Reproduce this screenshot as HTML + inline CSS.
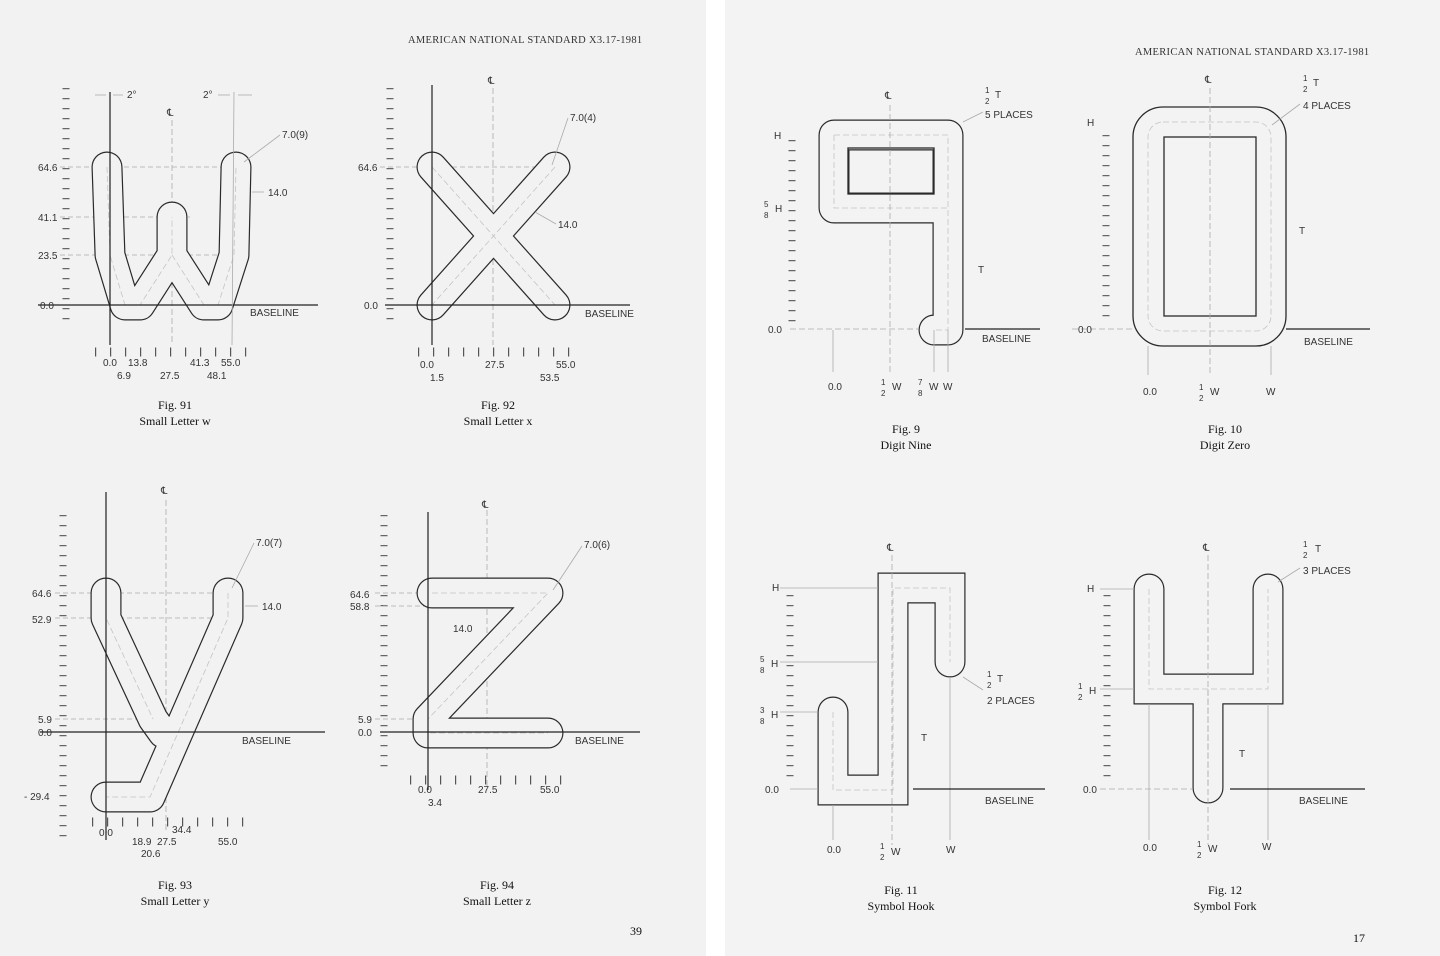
<!DOCTYPE html>
<html><head><meta charset="utf-8"><style>
html,body{margin:0;padding:0;background:#fff}
svg{display:block}
text{font-family:"Liberation Sans",sans-serif;font-size:10px;fill:#333}
.s{font-family:"Liberation Serif",serif;font-size:12px;fill:#111}
.h{font-family:"Liberation Serif",serif;font-size:10.5px;fill:#333;letter-spacing:.3px}
.o{fill:none;stroke:#2a2a2a;stroke-width:31;stroke-linecap:round}
.i{fill:none;stroke:#f2f2f2;stroke-width:28.6;stroke-linecap:round}
.ri{fill:none;stroke:#f3f3f3;stroke-width:28.6;stroke-linecap:round}
.c{fill:none;stroke:#c4c4c4;stroke-width:.8;stroke-dasharray:6 3}
.ax{stroke:#222;stroke-width:1.2}
.th{stroke:#aaa;stroke-width:.8}
.rl{stroke:#666;stroke-width:7;stroke-dasharray:1.2 8.8}
.tk{stroke:#555;stroke-width:9;stroke-dasharray:1.2 13.8}
.f{font-size:8px}
</style></head><body>
<svg width="1440" height="956" viewBox="0 0 1440 956" xmlns="http://www.w3.org/2000/svg">
<rect x="0" y="0" width="706" height="956" fill="#f2f2f2"/>
<rect x="725" y="0" width="715" height="956" fill="#f3f3f3"/>
<text class="h" x="408" y="43">AMERICAN NATIONAL STANDARD X3.17-1981</text>
<text class="h" x="1135" y="55">AMERICAN NATIONAL STANDARD X3.17-1981</text>
<text class="s" x="630" y="935">39</text>
<text class="s" x="1353" y="942">17</text>

<!-- Fig 91 w -->
<line class="rl" x1="66" y1="88" x2="66" y2="322"/>
<g class="th"><line x1="60" y1="167" x2="236" y2="167" stroke-dasharray="5 3"/><line x1="60" y1="217" x2="190" y2="217" stroke-dasharray="5 3"/><line x1="60" y1="255" x2="240" y2="255" stroke-dasharray="5 3"/><line x1="172" y1="120" x2="172" y2="345" stroke-dasharray="6 3"/></g>
<path class="o" d="M107,167 L110,255 L125,305 L140,305 L172,255 L172,217 M172,255 L204,305 L218,305 L234,255 L236,167" stroke-linejoin="round"/>
<path class="i" d="M107,167 L110,255 L125,305 L140,305 L172,255 L172,217 M172,255 L204,305 L218,305 L234,255 L236,167" stroke-linejoin="round"/>
<path class="c" d="M107,167 L110,255 L125,305 L140,305 L172,255 L172,217 M172,255 L204,305 L218,305 L234,255 L236,167"/>
<line class="ax" x1="110" y1="92" x2="110" y2="345"/>
<line class="ax" x1="38" y1="305" x2="318" y2="305"/>
<line class="th" x1="234" y1="92" x2="232" y2="345"/>
<text x="38" y="171">64.6</text><text x="38" y="221">41.1</text><text x="38" y="259">23.5</text><text x="40" y="309">0.0</text>
<text x="250" y="316">BASELINE</text>
<text x="167" y="116">℄</text>
<text x="127" y="98">2°</text><text x="203" y="98">2°</text>
<line class="th" x1="95" y1="95" x2="106" y2="95"/><line class="th" x1="113" y1="95" x2="123" y2="95"/><line class="th" x1="218" y1="95" x2="230" y2="95"/><line class="th" x1="238" y1="95" x2="252" y2="95"/>
<text x="282" y="138">7.0(9)</text><line class="th" x1="280" y1="135" x2="244" y2="162"/>
<text x="268" y="196">14.0</text><line class="th" x1="252" y1="192" x2="264" y2="192"/>
<line class="tk" x1="95" y1="352" x2="250" y2="352"/>
<text x="103" y="366">0.0</text><text x="128" y="366">13.8</text><text x="190" y="366">41.3</text><text x="221" y="366">55.0</text>
<text x="117" y="379">6.9</text><text x="160" y="379">27.5</text><text x="207" y="379">48.1</text>
<text class="s" x="175" y="409" text-anchor="middle">Fig. 91</text><text class="s" x="175" y="425" text-anchor="middle">Small Letter w</text>

<!-- Fig 92 x -->
<line class="rl" x1="390" y1="88" x2="390" y2="322"/>
<line class="th" x1="380" y1="167" x2="560" y2="167" stroke-dasharray="5 3"/>
<line class="th" x1="493" y1="88" x2="493" y2="345" stroke-dasharray="6 3"/>
<path class="o" d="M432,167 L555,305 M555,167 L432,305"/>
<path class="i" d="M432,167 L555,305 M555,167 L432,305"/>
<path class="c" d="M432,167 L555,305 M555,167 L432,305"/>
<line class="ax" x1="432" y1="85" x2="432" y2="345"/>
<line class="ax" x1="385" y1="305" x2="630" y2="305"/>
<text x="358" y="171">64.6</text><text x="364" y="309">0.0</text>
<text x="585" y="317">BASELINE</text><text x="488" y="84">℄</text>
<text x="570" y="121">7.0(4)</text><line class="th" x1="568" y1="118" x2="552" y2="165"/>
<text x="558" y="228">14.0</text><line class="th" x1="556" y1="224" x2="535" y2="212"/>
<line class="tk" x1="418" y1="352" x2="570" y2="352"/>
<text x="420" y="368">0.0</text><text x="485" y="368">27.5</text><text x="556" y="368">55.0</text>
<text x="430" y="381">1.5</text><text x="540" y="381">53.5</text>
<text class="s" x="498" y="409" text-anchor="middle">Fig. 92</text><text class="s" x="498" y="425" text-anchor="middle">Small Letter x</text>

<!-- Fig 93 y -->
<line class="rl" x1="63" y1="515" x2="63" y2="840"/>
<g class="th" stroke-dasharray="5 3"><line x1="55" y1="593" x2="230" y2="593"/><line x1="55" y1="618" x2="230" y2="618"/><line x1="55" y1="719" x2="190" y2="719"/><line x1="166" y1="500" x2="166" y2="830" stroke-dasharray="6 3"/></g>
<path class="o" d="M106,593 L106,618 L153,719 L163,733 M228,593 L228,618 L150,797 L106,797" stroke-linejoin="round"/>
<path class="i" d="M106,593 L106,618 L153,719 L163,733 M228,593 L228,618 L150,797 L106,797" stroke-linejoin="round"/>
<path class="c" d="M106,593 L106,618 L153,719 M228,593 L228,618 L150,797 L106,797"/>
<line class="ax" x1="106" y1="492" x2="106" y2="840"/>
<line class="ax" x1="40" y1="732" x2="325" y2="732"/>
<text x="32" y="597">64.6</text><text x="32" y="623">52.9</text><text x="38" y="723">5.9</text><text x="38" y="736">0.0</text><text x="24" y="800">- 29.4</text>
<text x="242" y="744">BASELINE</text><text x="161" y="494">℄</text>
<text x="256" y="546">7.0(7)</text><line class="th" x1="254" y1="543" x2="232" y2="588"/>
<text x="262" y="610">14.0</text><line class="th" x1="245" y1="606" x2="258" y2="606"/>
<line class="tk" x1="92" y1="822" x2="245" y2="822"/>
<text x="99" y="836">0.0</text><text x="172" y="833">34.4</text><text x="132" y="845">18.9</text><text x="157" y="845">27.5</text><text x="218" y="845">55.0</text><text x="141" y="857">20.6</text>
<text class="s" x="175" y="889" text-anchor="middle">Fig. 93</text><text class="s" x="175" y="905" text-anchor="middle">Small Letter y</text>

<!-- Fig 94 z -->
<line class="rl" x1="384" y1="515" x2="384" y2="770"/>
<g class="th" stroke-dasharray="5 3"><line x1="375" y1="593" x2="555" y2="593"/><line x1="375" y1="606" x2="470" y2="606"/><line x1="375" y1="719" x2="430" y2="719"/><line x1="487" y1="510" x2="487" y2="790" stroke-dasharray="6 3"/></g>
<path class="o" d="M432,593 L548,593 L428,719 L428,733 L548,733" stroke-linejoin="round"/>
<path class="i" d="M432,593 L548,593 L428,719 L428,733 L548,733" stroke-linejoin="round"/>
<path class="c" d="M432,593 L548,593 L428,719 L428,733 L548,733"/>
<line class="ax" x1="428" y1="512" x2="428" y2="790"/>
<line class="ax" x1="380" y1="732" x2="640" y2="732"/>
<text x="350" y="598">64.6</text><text x="350" y="610">58.8</text><text x="358" y="723">5.9</text><text x="358" y="736">0.0</text>
<text x="575" y="744">BASELINE</text><text x="482" y="508">℄</text>
<text x="584" y="548">7.0(6)</text><line class="th" x1="582" y1="546" x2="553" y2="590"/>
<text x="453" y="632">14.0</text>
<line class="tk" x1="410" y1="780" x2="568" y2="780"/>
<text x="418" y="793">0.0</text><text x="428" y="806">3.4</text><text x="478" y="793">27.5</text><text x="540" y="793">55.0</text>
<text class="s" x="497" y="889" text-anchor="middle">Fig. 94</text><text class="s" x="497" y="905" text-anchor="middle">Small Letter z</text>

<!-- Fig 9 -->
<line class="rl" x1="792" y1="140" x2="792" y2="322"/>
<path class="o" d="M834,135 L948,135 L948,208 L834,208 Z M948,135 L948,330 L934,330" stroke-linejoin="round"/>
<path class="ri" d="M834,135 L948,135 L948,208 L834,208 Z M948,135 L948,330 L934,330" stroke-linejoin="round"/>
<rect x="848" y="148" width="86" height="46" fill="none" stroke="#2a2a2a" stroke-width="1.3"/>
<path class="c" d="M834,135 L948,135 L948,330 L934,330 M834,135 L834,208 L948,208"/>
<line class="th" x1="790" y1="329" x2="918" y2="329" stroke-dasharray="6 3"/><line class="ax" x1="965" y1="329" x2="1040" y2="329"/>
<line class="th" x1="833" y1="330" x2="833" y2="372"/><line class="th" x1="890" y1="105" x2="890" y2="372" stroke-dasharray="6 3"/><line class="th" x1="934" y1="330" x2="934" y2="372"/><line class="th" x1="948" y1="330" x2="948" y2="372"/>
<text x="774" y="139">H</text><text class="f" x="764" y="207">5</text><text class="f" x="764" y="218">8</text><text x="775" y="212">H</text><text x="768" y="333">0.0</text>
<text x="982" y="342">BASELINE</text><text x="885" y="99">℄</text>
<text class="f" x="985" y="93">1</text><text class="f" x="985" y="104">2</text><text x="995" y="98">T</text><text x="985" y="118">5 PLACES</text>
<line class="th" x1="983" y1="112" x2="963" y2="122"/>
<text x="978" y="273">T</text>
<text x="828" y="390">0.0</text><text class="f" x="881" y="385">1</text><text class="f" x="881" y="396">2</text><text x="892" y="390">W</text>
<text class="f" x="918" y="385">7</text><text class="f" x="918" y="396">8</text><text x="929" y="390">W</text><text x="943" y="390">W</text>
<text class="s" x="906" y="433" text-anchor="middle">Fig. 9</text><text class="s" x="906" y="449" text-anchor="middle">Digit Nine</text>

<!-- Fig 10 -->
<line class="rl" x1="1106" y1="135" x2="1106" y2="318"/>
<rect x="1133" y="107" width="153" height="239" rx="30" fill="none" stroke="#2a2a2a" stroke-width="1.3"/>
<rect x="1164" y="137" width="92" height="179" fill="none" stroke="#2a2a2a" stroke-width="1.3"/>
<rect x="1148" y="122" width="123" height="209" rx="15" class="c"/>
<line class="th" x1="1072" y1="329" x2="1133" y2="329" stroke-dasharray="6 3"/><line class="ax" x1="1286" y1="329" x2="1370" y2="329"/>
<line class="th" x1="1210" y1="88" x2="1210" y2="375" stroke-dasharray="6 3"/><line class="th" x1="1148" y1="346" x2="1148" y2="375"/><line class="th" x1="1271" y1="346" x2="1271" y2="375"/>
<text x="1087" y="126">H</text><text x="1078" y="333">0.0</text><text x="1304" y="345">BASELINE</text><text x="1205" y="83">℄</text>
<text class="f" x="1303" y="81">1</text><text class="f" x="1303" y="92">2</text><text x="1313" y="86">T</text><text x="1303" y="109">4 PLACES</text>
<line class="th" x1="1300" y1="104" x2="1272" y2="125"/>
<text x="1299" y="234">T</text>
<text x="1143" y="395">0.0</text><text class="f" x="1199" y="390">1</text><text class="f" x="1199" y="401">2</text><text x="1210" y="395">W</text><text x="1266" y="395">W</text>
<text class="s" x="1225" y="433" text-anchor="middle">Fig. 10</text><text class="s" x="1225" y="449" text-anchor="middle">Digit Zero</text>

<!-- Fig 11 -->
<line class="rl" x1="790" y1="595" x2="790" y2="782"/>
<path class="o" d="M833,712 L833,790 L893,790 L893,588 L950,588 L950,662" stroke-linejoin="miter" stroke-linecap="round"/>
<path class="ri" d="M833,712 L833,790 L893,790 L893,588 L950,588 L950,662" stroke-linejoin="miter"/>
<path class="c" d="M833,712 L833,790 L893,790 L893,588 L950,588 L950,662"/>
<g class="th"><line x1="780" y1="588" x2="878" y2="588"/><line x1="780" y1="662" x2="878" y2="662"/><line x1="780" y1="712" x2="818" y2="712"/><line x1="790" y1="789" x2="818" y2="789"/><line x1="892" y1="555" x2="892" y2="845" stroke-dasharray="6 3"/><line x1="833" y1="805" x2="833" y2="840"/><line x1="950" y1="677" x2="950" y2="840"/></g>
<line class="ax" x1="913" y1="789" x2="1045" y2="789"/>
<text x="772" y="591">H</text><text class="f" x="760" y="662">5</text><text class="f" x="760" y="673">8</text><text x="771" y="667">H</text>
<text class="f" x="760" y="713">3</text><text class="f" x="760" y="724">8</text><text x="771" y="718">H</text><text x="765" y="793">0.0</text>
<text x="985" y="804">BASELINE</text><text x="887" y="551">℄</text>
<text class="f" x="987" y="677">1</text><text class="f" x="987" y="688">2</text><text x="997" y="682">T</text><text x="987" y="704">2 PLACES</text>
<line class="th" x1="983" y1="690" x2="963" y2="677"/>
<text x="921" y="741">T</text>
<text x="827" y="853">0.0</text><text class="f" x="880" y="849">1</text><text class="f" x="880" y="860">2</text><text x="891" y="855">W</text><text x="946" y="853">W</text>
<text class="s" x="901" y="894" text-anchor="middle">Fig. 11</text><text class="s" x="901" y="910" text-anchor="middle">Symbol Hook</text>

<!-- Fig 12 -->
<line class="rl" x1="1107" y1="595" x2="1107" y2="785"/>
<path class="o" d="M1149,589 L1149,689 L1268,689 L1268,589 M1208,689 L1208,788" stroke-linejoin="miter"/>
<path class="ri" d="M1149,589 L1149,689 L1268,689 L1268,589 M1208,689 L1208,788" stroke-linejoin="miter"/>
<path class="c" d="M1149,589 L1149,689 L1268,689 L1268,589 M1208,689 L1208,788"/>
<g class="th"><line x1="1100" y1="589" x2="1134" y2="589"/><line x1="1100" y1="689" x2="1134" y2="689"/><line x1="1100" y1="789" x2="1193" y2="789" stroke-dasharray="6 3"/><line x1="1208" y1="555" x2="1208" y2="845" stroke-dasharray="6 3"/><line x1="1149" y1="704" x2="1149" y2="840"/><line x1="1268" y1="704" x2="1268" y2="840"/></g>
<line class="ax" x1="1230" y1="789" x2="1365" y2="789"/>
<text x="1087" y="592">H</text><text class="f" x="1078" y="689">1</text><text class="f" x="1078" y="700">2</text><text x="1089" y="694">H</text><text x="1083" y="793">0.0</text>
<text x="1299" y="804">BASELINE</text><text x="1203" y="551">℄</text>
<text class="f" x="1303" y="547">1</text><text class="f" x="1303" y="558">2</text><text x="1315" y="552">T</text><text x="1303" y="574">3 PLACES</text>
<line class="th" x1="1300" y1="568" x2="1278" y2="582"/>
<text x="1239" y="757">T</text>
<text x="1143" y="851">0.0</text><text class="f" x="1197" y="847">1</text><text class="f" x="1197" y="858">2</text><text x="1208" y="852">W</text><text x="1262" y="850">W</text>
<text class="s" x="1225" y="894" text-anchor="middle">Fig. 12</text><text class="s" x="1225" y="910" text-anchor="middle">Symbol Fork</text>
</svg>
</body></html>
